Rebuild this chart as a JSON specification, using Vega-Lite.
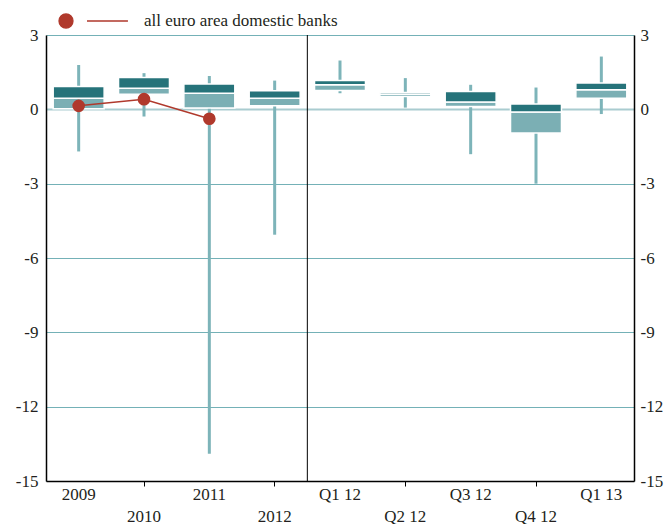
{
  "$schema": "https://vega.github.io/schema/vega-lite/v6.json",
  "width": 588,
  "height": 446,
  "autosize": {"type": "none"},
  "padding": {"left": 46, "top": 35, "right": 31, "bottom": 43},
  "background": "white",
  "config": {
    "view": {"stroke": null},
    "font": "Liberation Serif",
    "text": {"font": "Liberation Serif"},
    "axis": {"labelFont": "Liberation Serif", "labelFontSize": 17, "labelColor": "#231f20", "title": null},
    "legend": {"labelFont": "Liberation Serif"}
  },
  "datasets": {
    "boxes": [
      {"cat": "2009", "wlo": -1.70, "q1": 0.02, "med": 0.45, "q3": 0.92, "whi": 1.79},
      {"cat": "2010", "wlo": -0.29, "q1": 0.61, "med": 0.85, "q3": 1.28, "whi": 1.46},
      {"cat": "2011", "wlo": -13.9, "q1": 0.05, "med": 0.65, "q3": 1.02, "whi": 1.35},
      {"cat": "2012", "wlo": -5.06, "q1": 0.14, "med": 0.45, "q3": 0.75, "whi": 1.16},
      {"cat": "Q1 12", "wlo": 0.65, "q1": 0.76, "med": 0.99, "q3": 1.16, "whi": 1.97},
      {"cat": "Q2 12", "wlo": 0.07, "q1": 0.52, "med": 0.61, "q3": 0.68, "whi": 1.26},
      {"cat": "Q3 12", "wlo": -1.81, "q1": 0.11, "med": 0.30, "q3": 0.72, "whi": 0.99},
      {"cat": "Q4 12", "wlo": -3.0, "q1": -0.96, "med": -0.11, "q3": 0.22, "whi": 0.88},
      {"cat": "Q1 13", "wlo": -0.19, "q1": 0.45, "med": 0.79, "q3": 1.06, "whi": 2.13}
    ],
    "avg": [
      {"cat": "2009", "value": 0.14},
      {"cat": "2010", "value": 0.41},
      {"cat": "2011", "value": -0.38}
    ],
    "divider": [{"cat": "2012"}]
  },
  "layer": [
    {
      "layer": [
        {
          "data": {"name": "boxes"},
          "mark": {"type": "rule", "color": "#7DB4B9", "strokeWidth": 3},
          "encoding": {
            "x": {
              "field": "cat", "type": "nominal",
              "sort": ["2009", "2010", "2011", "2012", "Q1 12", "Q2 12", "Q3 12", "Q4 12", "Q1 13"],
              "scale": {"paddingInner": 0, "paddingOuter": 0},
              "axis": {
                "orient": "bottom", "labelAngle": 0, "domainColor": "black", "domainWidth": 1.5,
                "tickColor": "black", "tickSize": 5,
                "tickOpacity": {"condition": {"test": "indexof(['2010','2012','Q2 12','Q4 12'], datum.value) >= 0", "value": 1}, "value": 0},
                "labelPadding": 0,
                "labelLineHeight": 22,
                "labelFont": "Liberation Serif", "labelFontSize": 17, "labelColor": "#231f20",
                "labelExpr": "indexof(['2010','2012','Q2 12','Q4 12'], datum.value) >= 0 ? ['', datum.value] : datum.value",
                "grid": false
              }
            },
            "y": {
              "field": "wlo", "type": "quantitative",
              "scale": {"domain": [-15, 3], "nice": false, "zero": false},
              "axis": {
                "orient": "left", "values": [3, 0, -3, -6, -9, -12, -15],
                "labelExpr": "datum.value + ''",
                "domainColor": "black", "domainWidth": 1.5, "ticks": false, "labelPadding": 8,
                "labelFont": "Liberation Serif", "labelFontSize": 17, "labelColor": "#231f20",
                "grid": true,
                "gridColor": {"condition": {"test": "datum.value === 0", "value": "#A9CCD0"}, "value": "#74B1B7"},
                "gridWidth": {"condition": {"test": "datum.value === 0", "value": 2}, "value": 1}
              }
            },
            "y2": {"field": "whi"}
          }
        },
        {
          "data": {"name": "boxes"},
          "mark": {"type": "bar", "color": "#7BAFB4", "stroke": "white", "strokeWidth": 1.5, "width": {"band": 0.78}},
          "encoding": {
            "x": {"field": "cat", "type": "nominal", "sort": ["2009", "2010", "2011", "2012", "Q1 12", "Q2 12", "Q3 12", "Q4 12", "Q1 13"]},
            "y": {"field": "q1", "type": "quantitative"},
            "y2": {"field": "med"}
          }
        },
        {
          "data": {"name": "boxes"},
          "mark": {"type": "bar", "color": "#26737A", "stroke": "white", "strokeWidth": 1.5, "width": {"band": 0.78}},
          "encoding": {
            "x": {"field": "cat", "type": "nominal", "sort": ["2009", "2010", "2011", "2012", "Q1 12", "Q2 12", "Q3 12", "Q4 12", "Q1 13"]},
            "y": {"field": "med", "type": "quantitative"},
            "y2": {"field": "q3"}
          }
        },
        {
          "data": {"name": "divider"},
          "mark": {"type": "rule", "color": "black", "strokeWidth": 1},
          "encoding": {
            "x": {"field": "cat", "type": "nominal", "bandPosition": 1, "sort": ["2009", "2010", "2011", "2012", "Q1 12", "Q2 12", "Q3 12", "Q4 12", "Q1 13"]}
          }
        },
        {
          "data": {"name": "avg"},
          "mark": {"type": "line", "color": "#B0392C", "strokeWidth": 1.5},
          "encoding": {
            "x": {"field": "cat", "type": "nominal", "sort": ["2009", "2010", "2011", "2012", "Q1 12", "Q2 12", "Q3 12", "Q4 12", "Q1 13"]},
            "y": {"field": "value", "type": "quantitative"}
          }
        },
        {
          "data": {"name": "avg"},
          "mark": {"type": "point", "filled": true, "opacity": 1, "size": 160},
          "encoding": {
            "x": {"field": "cat", "type": "nominal", "sort": ["2009", "2010", "2011", "2012", "Q1 12", "Q2 12", "Q3 12", "Q4 12", "Q1 13"]},
            "y": {"field": "value", "type": "quantitative"},
            "color": {
              "datum": "all euro area domestic banks",
              "scale": {"range": ["#B0392C"]},
              "legend": {
                "orient": "none", "legendX": 12, "legendY": -50, "title": null, "padding": 0,
                "symbolType": "M -1 0 A 0.2 0.2 0 1 1 -0.6 0 A 0.2 0.2 0 1 1 -1 0 Z M -0.2 0 L 0.97 0",
                "symbolSize": 4900, "symbolStrokeColor": "#B0392C", "symbolStrokeWidth": 1.3,
                "symbolFillColor": "#B0392C",
                "labelFont": "Liberation Serif", "labelFontSize": 17, "labelColor": "#231f20", "labelOffset": 14,
                "labelLimit": 500
              }
            }
          }
        }
      ]
    },
    {
      "data": {"name": "boxes"},
      "mark": {"type": "rule", "opacity": 0},
      "encoding": {
        "y": {
          "field": "wlo", "type": "quantitative",
          "scale": {"domain": [-15, 3], "nice": false, "zero": false},
          "axis": {
            "orient": "right", "values": [3, 0, -3, -6, -9, -12, -15],
            "labelExpr": "datum.value + ''",
            "labelFont": "Liberation Serif", "labelFontSize": 17, "labelColor": "#231f20",
            "domainColor": "black", "domainWidth": 1.5, "ticks": false, "labelPadding": 6, "grid": false
          }
        }
      }
    }
  ],
  "resolve": {"scale": {"y": "independent"}, "axis": {"y": "independent"}}
}
